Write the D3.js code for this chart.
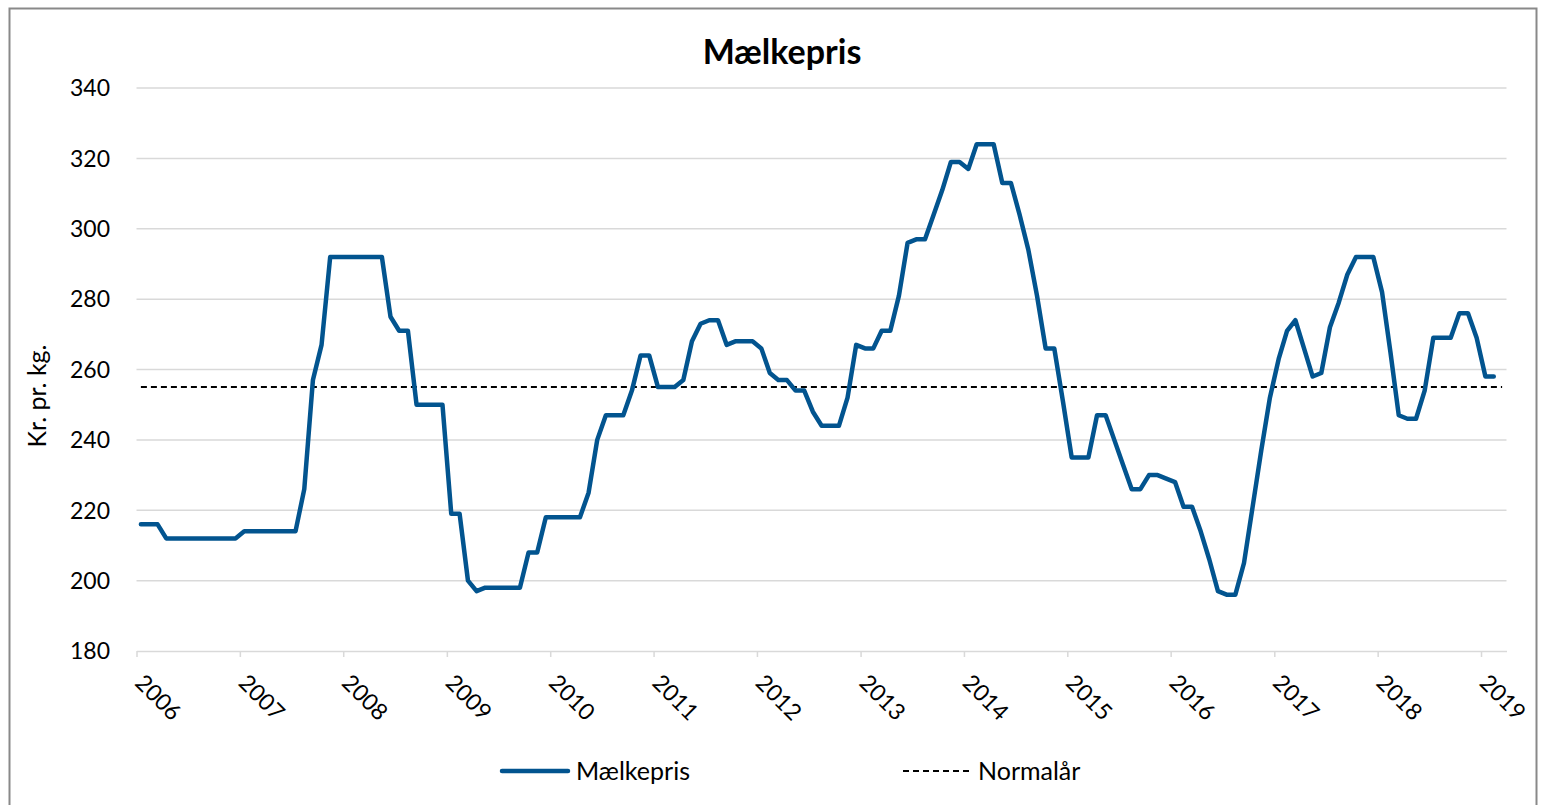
<!DOCTYPE html>
<html>
<head>
<meta charset="utf-8">
<script src="https://cdn.jsdelivr.net/npm/d3@7"></script>
<style>
  body { margin: 0; background: #fff; }
  text { font-family: Lato, "Open Sans", sans-serif; fill: #000; }
</style>
</head>
<body>
<div id="chart"></div>
<script>

// monthly milk price, Jan 2006 .. Feb 2019 (kr. pr. kg.)
const firstMonth = new Date(2006, 0, 1);
const axisEnd = new Date(2019, 3, 1);
const milkPrice = [
    216, 216, 216, 212, 212, 212, 212, 212, 212, 212, 212, 212,   // 2006
    214, 214, 214, 214, 214, 214, 214, 226, 257, 267, 292, 292,   // 2007
    292, 292, 292, 292, 292, 275, 271, 271, 250, 250, 250, 250,   // 2008
    219, 219, 200, 197, 198, 198, 198, 198, 198, 208, 208, 218,   // 2009
    218, 218, 218, 218, 225, 240, 247, 247, 247, 254, 264, 264,   // 2010
    255, 255, 255, 257, 268, 273, 274, 274, 267, 268, 268, 268,   // 2011
    266, 259, 257, 257, 254, 254, 248, 244, 244, 244, 252, 267,   // 2012
    266, 266, 271, 271, 281, 296, 297, 297, 304, 311, 319, 319,   // 2013
    317, 324, 324, 324, 313, 313, 304, 294, 281, 266, 266, 251,   // 2014
    235, 235, 235, 247, 247, 240, 233, 226, 226, 230, 230, 229,   // 2015
    228, 221, 221, 214, 206, 197, 196, 196, 205, 221, 237, 252,   // 2016
    263, 271, 274, 266, 258, 259, 272, 279, 287, 292, 292, 292,   // 2017
    282, 265, 247, 246, 246, 254, 269, 269, 269, 276, 276, 269,   // 2018
    258, 258                                                      // 2019
];
// normal year level, runs through Mar 2019
const normalYear = 255;
const normalMonths = 159;

const yTicks = [180, 200, 220, 240, 260, 280, 300, 320, 340];
const yearTicks = [2006, 2007, 2008, 2009, 2010, 2011, 2012, 2013, 2014, 2015, 2016, 2017, 2018, 2019];

const seriesNames = ["Mælkepris", "Normalår"];

document.addEventListener("DOMContentLoaded", function () {

    var width = 1541,
        height = 805;

    var svg = d3.select("#chart").append("svg")
        .attr("width", width)
        .attr("height", height);

    // outer chart frame
    svg.append("rect")
        .attr("x", 9.5).attr("y", 8.5)
        .attr("width", 1527).attr("height", 820)
        .attr("fill", "none")
        .attr("stroke", "#898989")
        .attr("stroke-width", 2);

    var x = d3.scaleTime()
        .domain([firstMonth, axisEnd])
        .range([136.5, 1506.5]);

    var y = d3.scaleLinear()
        .domain([180, 340])
        .range([651, 88]);

    // centre of a month slot
    function monthX(i) {
        var m = d3.timeMonth.offset(firstMonth, i);
        return (x(m) + x(d3.timeMonth.offset(m, 1))) / 2;
    }

    // gridlines
    svg.append("g")
        .selectAll("line")
        .data(yTicks.filter(d => d > 180))
        .enter()
        .append("line")
        .attr("x1", 136.5).attr("x2", 1506.5)
        .attr("y1", d => y(d)).attr("y2", d => y(d))
        .attr("stroke", "#d9d9d9")
        .attr("stroke-width", 1.5);

    // y labels
    svg.append("g")
        .selectAll("text")
        .data(yTicks)
        .enter()
        .append("text")
        .attr("x", 110)
        .attr("y", d => y(d))
        .attr("dy", "0.36em")
        .attr("text-anchor", "end")
        .style("font-size", "23px")
        .text(d => d);

    // x axis
    var xAxis = d3.axisBottom(x)
        .tickValues(yearTicks.map(yr => new Date(yr, 0, 1)))
        .tickFormat(d3.timeFormat("%Y"))
        .tickSize(6)
        .tickSizeOuter(0);

    var gx = svg.append("g")
        .attr("transform", "translate(0,651)")
        .call(xAxis);
    gx.select(".domain").attr("stroke", "#d9d9d9").attr("stroke-width", 1.5);
    gx.selectAll(".tick line").attr("stroke", "#d9d9d9").attr("stroke-width", 1.5);
    gx.selectAll(".tick text")
        .attr("x", 0).attr("y", 0)
        .attr("dy", "0.75em")
        .attr("text-anchor", "start")
        .attr("transform", "translate(9,21) rotate(45)")
        .style("font-size", "23px")
        .style("font-family", "Lato, 'Open Sans', sans-serif")
        .attr("fill", "#000");

    // axis title
    svg.append("text")
        .attr("transform", "translate(46,396) rotate(-90)")
        .attr("text-anchor", "middle")
        .style("font-size", "25px")
        .text("Kr. pr. kg.");

    // chart title
    svg.append("text")
        .attr("x", 782).attr("y", 64)
        .attr("text-anchor", "middle")
        .style("font-size", "34px")
        .style("font-weight", "bold")
        .text("Mælkepris");

    // normal year line
    svg.append("line")
        .attr("x1", monthX(0)).attr("x2", monthX(normalMonths - 1))
        .attr("y1", y(normalYear)).attr("y2", y(normalYear))
        .attr("stroke", "#000")
        .attr("stroke-width", 2)
        .attr("stroke-dasharray", "6,4");

    // milk price line
    var line = d3.line()
        .x((d, i) => monthX(i))
        .y(d => y(d));

    svg.append("path")
        .datum(milkPrice)
        .attr("d", line)
        .attr("fill", "none")
        .attr("stroke", "#02548f")
        .attr("stroke-width", 4.5)
        .attr("stroke-linejoin", "round")
        .attr("stroke-linecap", "round");

    // legend
    var legend = svg.append("g");
    legend.append("line")
        .attr("x1", 502).attr("x2", 568)
        .attr("y1", 771).attr("y2", 771)
        .attr("stroke", "#02548f")
        .attr("stroke-width", 4.5)
        .attr("stroke-linecap", "round");
    legend.append("text")
        .attr("x", 576).attr("y", 780)
        .style("font-size", "25px")
        .text(seriesNames[0]);
    legend.append("line")
        .attr("x1", 903).attr("x2", 971)
        .attr("y1", 771).attr("y2", 771)
        .attr("stroke", "#000")
        .attr("stroke-width", 2)
        .attr("stroke-dasharray", "6,4");
    legend.append("text")
        .attr("x", 978).attr("y", 780)
        .style("font-size", "25px")
        .text(seriesNames[1]);
});

</script>
</body>
</html>
